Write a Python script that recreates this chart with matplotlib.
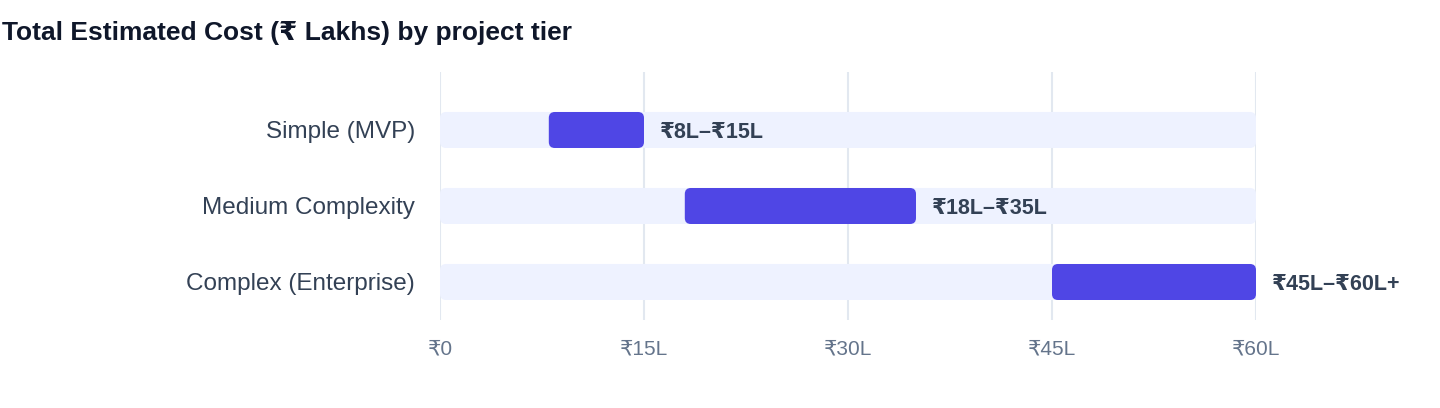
import matplotlib
matplotlib.use("Agg")
import matplotlib.pyplot as plt
from matplotlib.patches import FancyBboxPatch

plt.rcParams['font.family'] = ['Liberation Sans', 'DejaVu Sans']

tiers = ["Simple (MVP)", "Medium Complexity", "Complex (Enterprise)"]
cost_low = [8, 18, 45]
cost_high = [15, 35, 60]
range_labels = ["₹8L–₹15L", "₹18L–₹35L", "₹45L–₹60L+"]
axis_max = 60
tick_vals = [0, 15, 30, 45, 60]
tick_labels = ["₹0", "₹15L", "₹30L", "₹45L", "₹60L"]

W, H = 1440, 408
fig = plt.figure(figsize=(W / 100, H / 100), dpi=100)
ax = fig.add_axes([440 / W, 1 - 320 / H, 816 / W, 248 / H])

ax.set_xlim(0, axis_max)
ax.set_ylim(2.5, -0.763)

bar_h = 36 / 76
# px per unit on each axis -> aspect so the corners round evenly
aspect = (816 / axis_max) / 76
rad = 6 / (816 / axis_max)

for i in range(len(tiers)):
    bg = FancyBboxPatch((0, i - bar_h / 2), axis_max, bar_h,
                        boxstyle=f"round,pad=0,rounding_size={rad}",
                        mutation_aspect=aspect, fc="#EEF2FF", ec="none", zorder=2)
    ax.add_patch(bg)
    fg = FancyBboxPatch((cost_low[i], i - bar_h / 2), cost_high[i] - cost_low[i], bar_h,
                        boxstyle=f"round,pad=0,rounding_size={rad}",
                        mutation_aspect=aspect, fc="#4F46E5", ec="none", zorder=3)
    ax.add_patch(fg)
    ax.annotate(range_labels[i], (cost_high[i], i), xytext=(11.5, 0),
                textcoords="offset points", va="center_baseline", ha="left",
                fontsize=15.5, fontweight="bold", color="#334155",
                annotation_clip=False)

ax.set_yticks(range(len(tiers)))
ax.set_yticklabels(tiers, fontsize=17.5, color="#334155")
ax.set_xticks(tick_vals)
ax.set_xticklabels(tick_labels, fontsize=15, color="#64748B")
ax.tick_params(axis="y", length=0, pad=18)
ax.tick_params(axis="x", length=0, pad=14)
ax.grid(axis="x", color="#E2E8F0", linewidth=1.5, zorder=0)
ax.set_axisbelow(True)
for s in ax.spines.values():
    s.set_visible(False)

fig.text(2 / W, 1 - 33 / H, "Total Estimated Cost (₹ Lakhs) by project tier",
         fontsize=19, fontweight="bold", color="#0F172A", va="center", ha="left")

fig.savefig("out.png", dpi=100)
